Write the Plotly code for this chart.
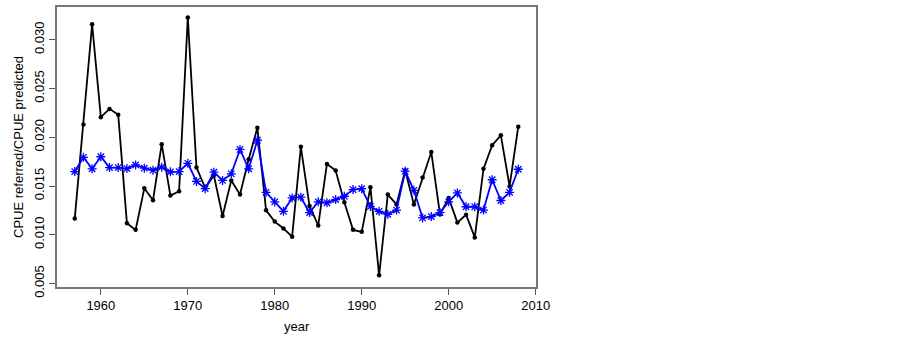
import plotly.graph_objects as go

years = list(range(1957, 2009))

cpue_referred = [
    0.01166, 0.02132, 0.03158, 0.02206, 0.02291, 0.02230, 0.01118, 0.01050,
    0.01476, 0.01354, 0.01929, 0.01402, 0.01446, 0.03229, 0.01689, 0.01480,
    0.01608, 0.01192, 0.01557, 0.01412, 0.01774, 0.02098, 0.01250, 0.01135,
    0.01064, 0.00980, 0.01902, 0.01294, 0.01095, 0.01726, 0.01659, 0.01334,
    0.01050, 0.01030, 0.01486, 0.00584, 0.01412, 0.01311, 0.01659, 0.01311,
    0.01587, 0.01848, 0.01209, 0.01378, 0.01125, 0.01206, 0.00973, 0.01676,
    0.01919, 0.02020, 0.01496, 0.02108,
]

cpue_predicted = [
    0.01648, 0.01794, 0.01676, 0.01800, 0.01689, 0.01689, 0.01679, 0.01716,
    0.01683, 0.01662, 0.01693, 0.01645, 0.01648, 0.01733, 0.01547, 0.01473,
    0.01642, 0.01557, 0.01625, 0.01875, 0.01676, 0.01969, 0.01435, 0.01338,
    0.01240, 0.01378, 0.01385, 0.01227, 0.01338, 0.01328, 0.01361, 0.01395,
    0.01463, 0.01473, 0.01290, 0.01240, 0.01209, 0.01253, 0.01652, 0.01456,
    0.01172, 0.01186, 0.01227, 0.01338, 0.01429, 0.01287, 0.01287, 0.01253,
    0.01564, 0.01351, 0.01435, 0.01672,
]

x_ticks = [1960, 1970, 1980, 1990, 2000, 2010]
y_ticks = [0.005, 0.010, 0.015, 0.020, 0.025, 0.030]
y_tick_labels = ["0.005", "0.010", "0.015", "0.020", "0.025", "0.030"]

font = "Liberation Sans, Arial, sans-serif"

fig = go.Figure()
fig.add_trace(go.Scatter(
    x=years, y=cpue_referred, mode="lines+markers",
    line=dict(color="black", width=1.8),
    marker=dict(color="black", size=4.5, symbol="circle"),
    showlegend=False,
))
fig.add_trace(go.Scatter(
    x=years, y=cpue_predicted, mode="lines+markers",
    line=dict(color="#0000ff", width=1.8),
    marker=dict(symbol="asterisk-open", size=7.5, line=dict(color="#0000ff", width=1.3)),
    showlegend=False,
))

fig.update_layout(
    width=902, height=342,
    margin=dict(l=57, r=366, t=5, b=55),
    paper_bgcolor="white", plot_bgcolor="white",
    font=dict(family=font, size=13, color="black"),
    xaxis=dict(
        range=[1954.96, 2010.04], tickvals=x_ticks, ticks="outside", ticklen=6,
        tickcolor="#555555", showgrid=False, zeroline=False,
        showline=True, linecolor="#777777", linewidth=1.5, mirror=True,
        tickfont=dict(size=13),
    ),
    yaxis=dict(
        range=[0.00464, 0.03336], tickvals=y_ticks, ticktext=y_tick_labels,
        ticks="outside", ticklen=6, tickcolor="#555555", tickangle=-90,
        showgrid=False, zeroline=False,
        showline=True, linecolor="#777777", linewidth=1.5, mirror=True,
        tickfont=dict(size=13),
    ),
    annotations=[
        dict(text="year", x=0.5, y=0.0, xref="paper", yref="paper",
             xanchor="center", yanchor="top", yshift=-30, showarrow=False,
             font=dict(size=13)),
        dict(text="CPUE referred/CPUE predicted", x=0, y=0.5, xref="paper",
             yref="paper", xanchor="center", yanchor="middle", xshift=-39,
             textangle=-90, showarrow=False, font=dict(size=13)),
    ],
)

fig.write_html("out.html", config={"displayModeBar": False},
               post_script="document.body.style.margin='0';")
